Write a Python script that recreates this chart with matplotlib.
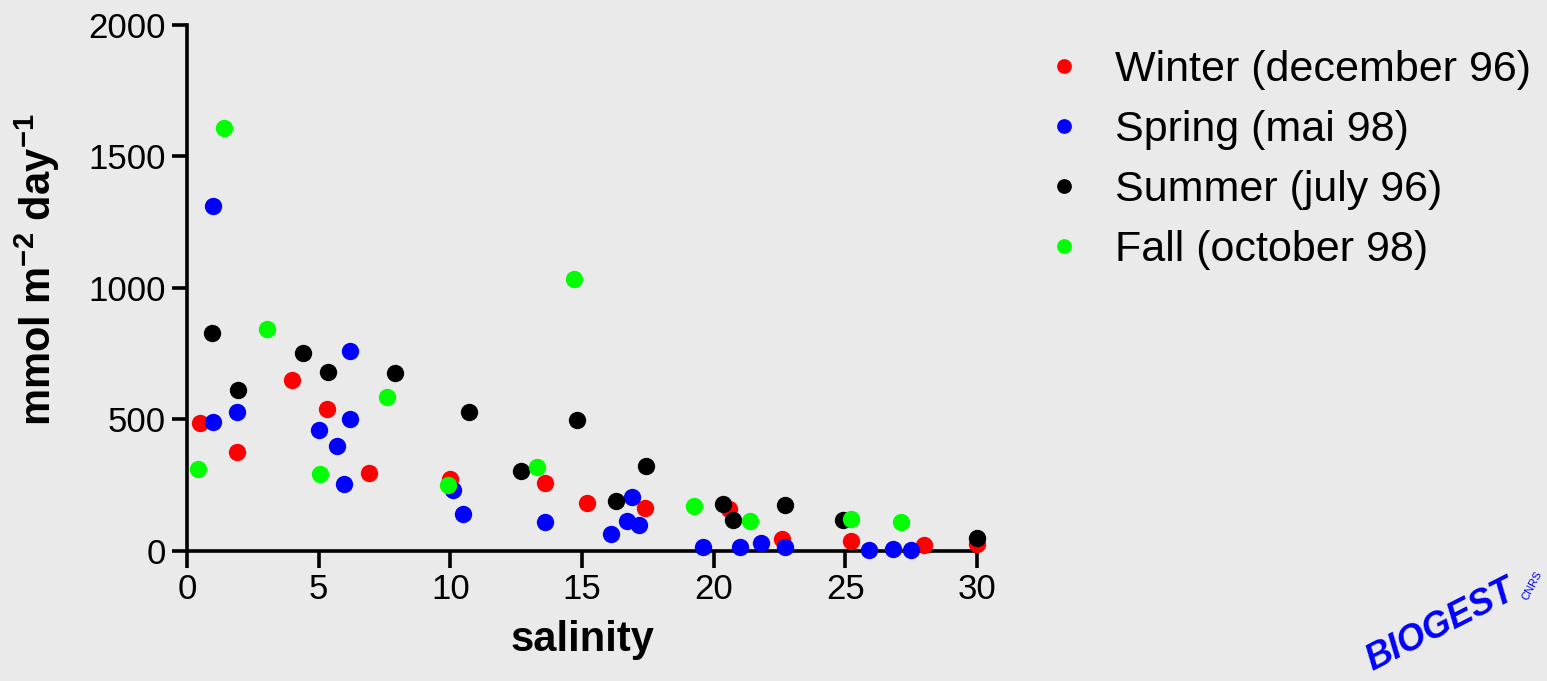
import matplotlib
matplotlib.use('Agg')
import matplotlib.pyplot as plt

plt.rcParams['font.family'] = ['Liberation Sans', 'DejaVu Sans']
plt.rcParams['mathtext.fontset'] = 'custom'
plt.rcParams['mathtext.rm'] = 'Liberation Sans'
plt.rcParams['mathtext.bf'] = 'Liberation Sans:bold'

# salinity / flux pairs for each campaign
winter_sal = [0.5, 1.9, 4.0, 5.3, 6.9, 10.0, 13.6, 15.2, 17.4, 20.6, 22.6, 25.2, 28.0, 30.0]
winter_flux = [485, 375, 650, 540, 295, 275, 260, 182, 165, 160, 45, 38, 22, 27]

spring_sal = [1.0, 1.0, 1.9, 5.0, 5.7, 5.95, 6.2, 6.2, 10.1, 10.5, 13.6, 16.1, 16.7, 17.15,
              16.9, 19.6, 21.0, 21.8, 22.7, 25.9, 26.8, 27.5]
spring_flux = [1310, 490, 530, 460, 398, 255, 762, 501, 232, 141, 110, 66, 114, 99,
               204, 15, 14, 29, 14, 5, 8, 3]

summer_sal = [0.95, 1.95, 4.4, 5.35, 7.9, 10.7, 12.7, 14.8, 16.3, 17.45, 20.35, 20.75, 22.7, 24.9, 30.0]
summer_flux = [830, 613, 752, 679, 676, 530, 304, 497, 191, 324, 179, 118, 176, 117, 51]

fall_sal = [1.4, 0.4, 3.05, 5.05, 7.6, 9.9, 14.7, 13.3, 19.25, 21.4, 25.2, 27.1]
fall_flux = [1610, 310, 845, 293, 584, 250, 1034, 318, 171, 114, 120, 111]

series = [
    ('Winter (december 96)', winter_sal, winter_flux, '#ff0000'),
    ('Spring (mai 98)', spring_sal, spring_flux, '#0000ff'),
    ('Summer (july 96)', summer_sal, summer_flux, '#000000'),
    ('Fall (october 98)', fall_sal, fall_flux, '#00ff00'),
]

bg = '#eaeaea'
fig = plt.figure(figsize=(15.47, 6.81), dpi=100, facecolor=bg)
ax = fig.add_axes([0.1209, 0.1909, 0.5106, 0.7724], facecolor=bg)

handles = []
for name, xs, ys, col in series:
    h, = ax.plot(xs, ys, 'o', color=col, markersize=12.5, markeredgewidth=0,
                 label=name, clip_on=False, zorder=3)
    handles.append(h)

ax.set_xlim(0, 30)
ax.set_ylim(0, 2000)
ax.set_xticks([0, 5, 10, 15, 20, 25, 30])
ax.set_yticks([0, 500, 1000, 1500, 2000])

for side in ['top', 'right']:
    ax.spines[side].set_visible(False)
for side in ['left', 'bottom']:
    ax.spines[side].set_linewidth(2.6)
ax.tick_params(axis='x', direction='out', length=12, width=2.6, labelsize=25, pad=4)
ax.tick_params(axis='y', direction='out', length=11, width=2.6, labelsize=25, pad=4)

ax.set_xlabel('salinity', fontsize=30, fontweight='bold', labelpad=10)
ax.set_ylabel(r'mmol m$^{\mathbf{-2}}$ day$^{\mathbf{-1}}$', fontsize=30,
              fontweight='bold')
ax.yaxis.set_label_coords(-0.158, 0.535)

fig.legend(handles=handles, loc='upper left', bbox_to_anchor=(0.649, 0.984),
           frameon=False, fontsize=31, handlelength=1.0, handletextpad=0.67,
           labelspacing=0.47, markerscale=0.85)

# logo text in the corner
fig.text(1372 / 1547, 10 / 681, 'BIOGEST', color='#0000ff', fontsize=26,
         fontweight='bold', fontstyle='italic', rotation=27,
         rotation_mode='anchor', ha='left', va='baseline')
fig.text(1532 / 1547, 95 / 681, 'CNRS', color='#0000ff', fontsize=8, rotation=62,
         ha='center', va='center')

fig.savefig('out.png', dpi=100, facecolor=bg)
